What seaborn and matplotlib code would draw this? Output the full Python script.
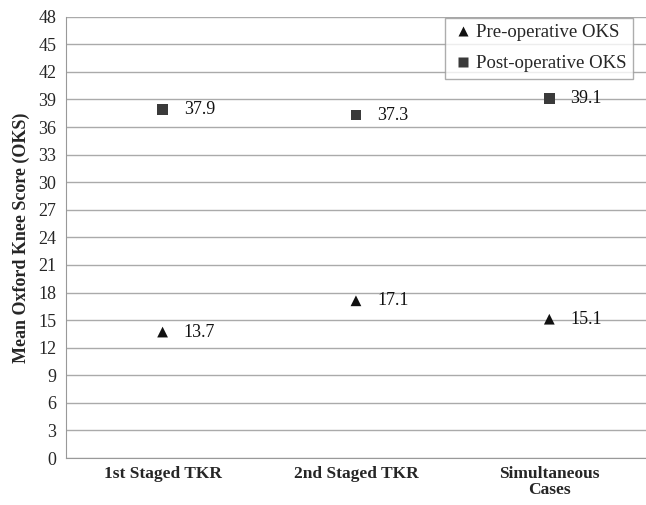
import numpy as np
import pandas as pd
import seaborn as sns
import matplotlib.pyplot as plt

groups = ["1st Staged TKR", "2nd Staged TKR", "Simultaneous\nCases"]
pre_oks = [13.7, 17.1, 15.1]
post_oks = [37.9, 37.3, 39.1]

df = pd.DataFrame({
    "group": groups * 2,
    "score": pre_oks + post_oks,
    "series": ["Pre-operative OKS"] * 3 + ["Post-operative OKS"] * 3,
})
df["x"] = df["group"].map({g: i for i, g in enumerate(groups)})

sns.set_style("white")
plt.rcParams["font.family"] = ["Liberation Serif", "DejaVu Serif"]

fig = plt.figure(figsize=(6.46, 5.05), dpi=100)
ax = fig.add_axes([0.102, 0.093, 0.898, 0.874])

sns.scatterplot(data=df, x="x", y="score", hue="series", style="series",
                markers={"Pre-operative OKS": "^", "Post-operative OKS": "s"},
                palette={"Pre-operative OKS": "#111111", "Post-operative OKS": "#3a3a3a"},
                s=60, edgecolor="none", ax=ax, zorder=3)

for _, r in df.iterrows():
    ax.text(r["x"] + 0.11, r["score"], f"{r['score']:.1f}", va="center", ha="left",
            fontsize=13, color="#111111")

ax.set_xlim(-0.5, 2.5)
ax.set_ylim(0, 48)
ax.set_yticks(np.arange(0, 49, 3))
ax.set_xticks(range(3))
ax.set_xticklabels(groups, fontsize=12.5, fontweight="bold", linespacing=1.0)
ax.tick_params(axis="y", labelsize=13, length=5, color="#999999", pad=2)
ax.tick_params(axis="x", length=0, pad=6)
ax.grid(axis="y", color="#aaaaaa", linewidth=1)
ax.set_axisbelow(True)
for side in ["top", "right"]:
    ax.spines[side].set_visible(False)
for side in ["left", "bottom"]:
    ax.spines[side].set_color("#999999")
ax.set_xlabel("")
ax.set_ylabel("Mean Oxford Knee Score (OKS)", fontsize=13, fontweight="bold", labelpad=6)

handles, labels = ax.get_legend_handles_labels()
handles[1].set_color("#7a7a7a")
leg = ax.legend(handles, labels, loc="upper right", bbox_to_anchor=(0.98, 1.0),
                fontsize=13.5, frameon=True, fancybox=False, edgecolor="#999999",
                handletextpad=0.1, handlelength=1.2, borderpad=0.35, labelspacing=0.75,
                borderaxespad=0.05, markerscale=0.9)
leg.get_frame().set_linewidth(1)

fig.savefig("out.png", dpi=100)
